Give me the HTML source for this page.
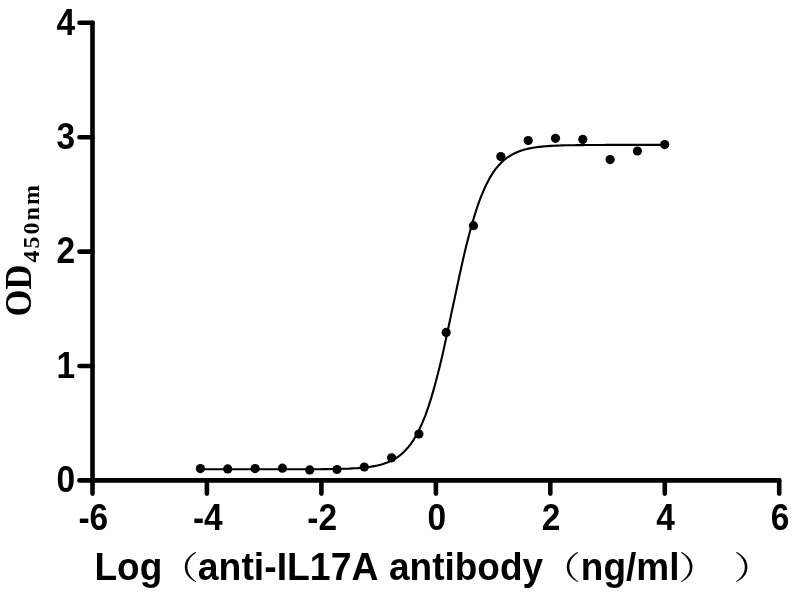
<!DOCTYPE html>
<html><head><meta charset="utf-8"><title>chart</title>
<style>
html,body{margin:0;padding:0;background:#fff;}
svg{display:block}
.ax line,.ax polyline{stroke:#000;stroke-width:4.6;stroke-linecap:round;stroke-linejoin:round;fill:none}
.tk text{font-family:"Liberation Sans",sans-serif;font-weight:bold;font-size:34px;fill:#000}
.xl{font-family:"Liberation Sans","Noto Sans CJK SC",sans-serif;font-weight:bold;font-size:37px;fill:#000}
.xl .p{font-family:"Noto Serif CJK SC","Noto Sans CJK SC",serif;font-weight:400;font-size:32px}
.yl{font-family:"Liberation Serif",serif;font-weight:bold;font-size:34.5px;fill:#000}
</style></head><body>
<svg width="800" height="598" viewBox="0 0 800 598">
<rect width="800" height="598" fill="#fff"/>
<g class="ax">
<polyline points="92.5,22.8 92.5,480.4 779.2,480.4"/>
<line x1="92.5" y1="480.4" x2="92.5" y2="493.6"/>
<line x1="206.9" y1="480.4" x2="206.9" y2="493.6"/>
<line x1="321.4" y1="480.4" x2="321.4" y2="493.6"/>
<line x1="435.9" y1="480.4" x2="435.9" y2="493.6"/>
<line x1="550.3" y1="480.4" x2="550.3" y2="493.6"/>
<line x1="664.8" y1="480.4" x2="664.8" y2="493.6"/>
<line x1="779.2" y1="480.4" x2="779.2" y2="493.6"/>
<line x1="92.5" y1="480.4" x2="79.5" y2="480.4"/>
<line x1="92.5" y1="366.0" x2="79.5" y2="366.0"/>
<line x1="92.5" y1="251.6" x2="79.5" y2="251.6"/>
<line x1="92.5" y1="137.2" x2="79.5" y2="137.2"/>
<line x1="92.5" y1="22.8" x2="79.5" y2="22.8"/>
</g>
<polyline points="200.4,469.3 203.3,469.3 206.3,469.3 209.2,469.3 212.1,469.3 215.0,469.3 217.9,469.3 220.9,469.3 223.8,469.3 226.7,469.3 229.6,469.3 232.5,469.3 235.5,469.3 238.4,469.3 241.3,469.3 244.2,469.3 247.1,469.3 250.1,469.3 253.0,469.3 255.9,469.3 258.8,469.3 261.7,469.3 264.7,469.3 267.6,469.3 270.5,469.3 273.4,469.3 276.3,469.3 279.3,469.3 282.2,469.3 285.1,469.3 288.0,469.3 290.9,469.3 293.9,469.3 296.8,469.3 299.7,469.3 302.6,469.3 305.5,469.2 308.5,469.2 311.4,469.2 314.3,469.2 317.2,469.2 320.1,469.2 323.1,469.1 326.0,469.1 328.9,469.1 331.8,469.0 334.7,469.0 337.7,468.9 340.6,468.9 343.5,468.8 346.4,468.7 349.3,468.6 352.3,468.4 355.2,468.3 358.1,468.1 361.0,467.8 363.9,467.6 366.9,467.2 369.8,466.9 372.7,466.4 375.6,465.9 378.5,465.2 381.5,464.5 384.4,463.6 387.3,462.5 390.2,461.3 393.1,459.8 396.1,458.1 399.0,456.1 401.9,453.8 404.8,451.0 407.7,447.8 410.7,444.1 413.6,439.8 416.5,434.9 419.4,429.3 422.3,422.8 425.3,415.6 428.2,407.4 431.1,398.4 434.0,388.4 436.9,377.5 439.9,365.8 442.8,353.4 445.7,340.3 448.6,326.7 451.5,312.9 454.5,299.0 457.4,285.2 460.3,271.7 463.2,258.7 466.1,246.4 469.1,234.8 472.0,224.1 474.9,214.3 477.8,205.4 480.7,197.4 483.7,190.3 486.6,184.0 489.5,178.4 492.4,173.6 495.3,169.4 498.3,165.8 501.2,162.7 504.1,160.0 507.0,157.7 509.9,155.8 512.9,154.1 515.8,152.7 518.7,151.5 521.6,150.5 524.5,149.6 527.5,148.9 530.4,148.3 533.3,147.7 536.2,147.3 539.1,146.9 542.1,146.6 545.0,146.3 547.9,146.1 550.8,145.9 553.7,145.8 556.7,145.6 559.6,145.5 562.5,145.4 565.4,145.3 568.3,145.3 571.3,145.2 574.2,145.2 577.1,145.1 580.0,145.1 582.9,145.1 585.9,145.0 588.8,145.0 591.7,145.0 594.6,145.0 597.5,145.0 600.5,145.0 603.4,145.0 606.3,144.9 609.2,144.9 612.1,144.9 615.1,144.9 618.0,144.9 620.9,144.9 623.8,144.9 626.7,144.9 629.7,144.9 632.6,144.9 635.5,144.9 638.4,144.9 641.3,144.9 644.3,144.9 647.2,144.9 650.1,144.9 653.0,144.9 655.9,144.9 658.9,144.9 661.8,144.9 664.7,144.9" fill="none" stroke="#000" stroke-width="2.1" stroke-linejoin="round"/>
<g fill="#000">
<circle cx="664.7" cy="144.6" r="4.6"/>
<circle cx="637.4" cy="151.0" r="4.6"/>
<circle cx="610.1" cy="159.6" r="4.6"/>
<circle cx="582.8" cy="139.4" r="4.6"/>
<circle cx="555.5" cy="138.3" r="4.6"/>
<circle cx="528.2" cy="140.5" r="4.6"/>
<circle cx="500.8" cy="156.6" r="4.6"/>
<circle cx="473.5" cy="225.7" r="4.6"/>
<circle cx="446.2" cy="332.4" r="4.6"/>
<circle cx="418.9" cy="434.0" r="4.6"/>
<circle cx="391.6" cy="457.8" r="4.6"/>
<circle cx="364.3" cy="467.0" r="4.6"/>
<circle cx="337.0" cy="469.5" r="4.6"/>
<circle cx="309.7" cy="469.9" r="4.6"/>
<circle cx="282.4" cy="468.2" r="4.6"/>
<circle cx="255.1" cy="468.6" r="4.6"/>
<circle cx="227.7" cy="468.9" r="4.6"/>
<circle cx="200.4" cy="468.6" r="4.6"/>
</g>
<g class="tk">
<text transform="translate(93.3,529.8) scale(0.985,1.085)" text-anchor="middle">-6</text>
<text transform="translate(207.8,529.8) scale(0.985,1.085)" text-anchor="middle">-4</text>
<text transform="translate(322.2,529.8) scale(0.985,1.085)" text-anchor="middle">-2</text>
<text transform="translate(436.7,529.8) scale(0.985,1.085)" text-anchor="middle">0</text>
<text transform="translate(551.1,529.8) scale(0.985,1.085)" text-anchor="middle">2</text>
<text transform="translate(665.5,529.8) scale(0.985,1.085)" text-anchor="middle">4</text>
<text transform="translate(780.0,529.8) scale(0.985,1.085)" text-anchor="middle">6</text>
<text transform="translate(75.2,492.1) scale(0.985,1.085)" text-anchor="end">0</text>
<text transform="translate(75.2,377.7) scale(0.985,1.085)" text-anchor="end">1</text>
<text transform="translate(75.2,263.3) scale(0.985,1.085)" text-anchor="end">2</text>
<text transform="translate(75.2,148.9) scale(0.985,1.085)" text-anchor="end">3</text>
<text transform="translate(75.2,34.5) scale(0.985,1.085)" text-anchor="end">4</text>
</g>
<g class="xl">
<text transform="translate(94.5,580) scale(1,1.035)">Log</text>
<text class="p" transform="translate(158.75,579) scale(1.25,1)">（</text>
<text transform="translate(197.8,580) scale(1.01,1.035)">anti-IL17A</text>
<text transform="translate(389.0,580) scale(1,1.035)">antibody</text>
<text class="p" transform="translate(540.65,579) scale(1.25,1)">（</text>
<text transform="translate(580.8,580) scale(1,1.035)">ng/ml</text>
<text class="p" transform="translate(678.5,579) scale(1.25,1)">）</text>
<text class="p" transform="translate(733.5,579) scale(1.25,1)">）</text>
</g>
<g class="yl" transform="translate(30.5,316.4) rotate(-90)">
<text transform="scale(1,1.09)">OD</text>
<text x="54" y="8.3" font-size="24" letter-spacing="2">450nm</text>
</g>
</svg>
</body></html>
